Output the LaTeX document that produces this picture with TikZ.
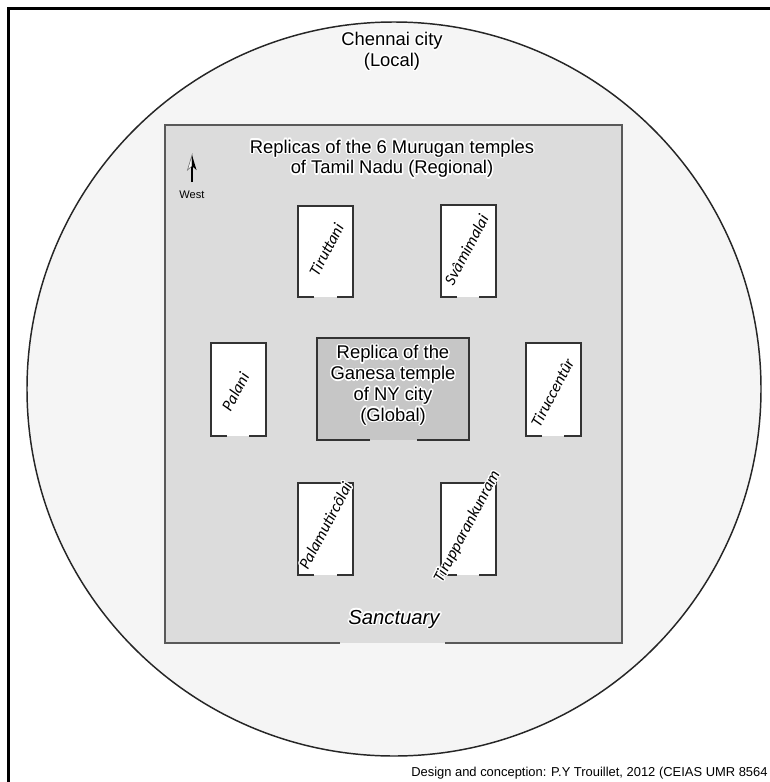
\documentclass[tikz,border=0pt]{standalone}
\usepackage{fontspec}
\setmainfont{Liberation Sans}
\newfontfamily\tfont{Carlito}
\usepackage[copies]{contour}
\contourlength{1.1pt}
\contournumber{12}
\definecolor{circfill}{HTML}{F5F5F5}
\definecolor{rectfill}{HTML}{DCDCDC}
\definecolor{ctrfill}{HTML}{C6C6C6}
\definecolor{edge}{HTML}{333333}
\newcommand\templebox[6]{%
  \fill[white] (#1,#2) rectangle (#3,#4);
  \draw[tbox] (#5,#4) -| (#1,#2) -| (#3,#4) -- (#6,#4);}
\begin{document}
\begin{tikzpicture}[x=0.75pt,y=-0.75pt,
  big/.style={font=\fontsize{13.8}{15.6}\selectfont, align=center, inner sep=0pt},
  tname/.style={font=\tfont\itshape\fontsize{12.2}{14}\selectfont, rotate=62, inner sep=0pt},
  tbox/.style={draw=edge, line width=1.1pt},
  frame/.style={draw=black, line width=2pt}]
\useasboundingbox (0,0) rectangle (770,782);
\fill[white] (0,0) rectangle (770,782);
% outer frame (cut by the page)
\draw[frame] (8.5,8.5) rectangle (900,900);
% city circle
\draw[fill=circfill, draw=black!85, line width=1.1pt] (394,389) circle[radius=367];
% regional rectangle
\fill[rectfill] (165,125) rectangle (622,643);
\draw[draw=black!65, line width=1.5pt] (340,643) -| (165,125) -| (622,643) -- (445,643);
% central box
\fill[ctrfill] (317,338) rectangle (469,440);
\draw[tbox] (370,440) -| (317,338) -| (469,440) -- (417,440);
% temple boxes
\templebox{298}{206}{353}{297}{314}{337}
\templebox{441}{205}{496}{297}{457}{479}
\templebox{211}{343}{266}{436}{227}{249}
\templebox{526}{343}{581}{436}{542}{564}
\templebox{298}{483}{353}{575}{314}{337}
\templebox{441}{483}{496}{575}{457}{479}
% texts
\node[big] (city) at (392,52) {\contour{white}{Chennai city}\\\contour{white}{(Local)}};
\node[big] (regional) at (392,159.5) {\contour{white}{Replicas of the 6 Murugan temples}\\\contour{white}{of Tamil Nadu (Regional)}};
\node[big] (global) at (393,386) {\contour{white}{Replica of the}\\\contour{white}{Ganesa temple}\\\contour{white}{of NY city}\\\contour{white}{(Global)}};
\node[font=\itshape\fontsize{15.2}{17}\selectfont, inner sep=0pt] (sanct) at (394,620) {\contour{white}{Sanctuary}};
\node[tname] (t1) at (327,250) {\contour{white}{Tiruttani}};
\node[tname] (t2) at (467,250) {\contour{white}{Svâmimalai}};
\node[tname] (t3) at (236,392) {\contour{white}{Palani}};
\node[tname] (t4) at (553,393) {\contour{white}{Tiruccentûr}};
\node[tname] (t5) at (326,526) {\contour{white}{Palamutircôlai}};
\node[tname] (t6) at (468,527) {\contour{white}{Tirupparankunram}};
% compass
\coordinate (ctail) at (192,182);
\coordinate (ctip) at (192,155);
\draw[line width=1.6pt] (ctail) -- (192,165);
\fill[white, draw=black!60, line width=0.4pt] (ctip) -- (187.5,170) -- (192,166) -- cycle;
\fill[black] (ctip) -- (196.5,170) -- (192,166) -- cycle;
\node[font=\fontsize{8.3}{9}\selectfont, inner sep=0pt] (west) at (192,195) {West};
% credit
\node[font=\fontsize{9.7}{11}\selectfont, anchor=west, inner sep=0pt] (credit) at (411,773) {Design and conception: P.Y Trouillet, 2012 (CEIAS UMR 8564};
\end{tikzpicture}
\end{document}
